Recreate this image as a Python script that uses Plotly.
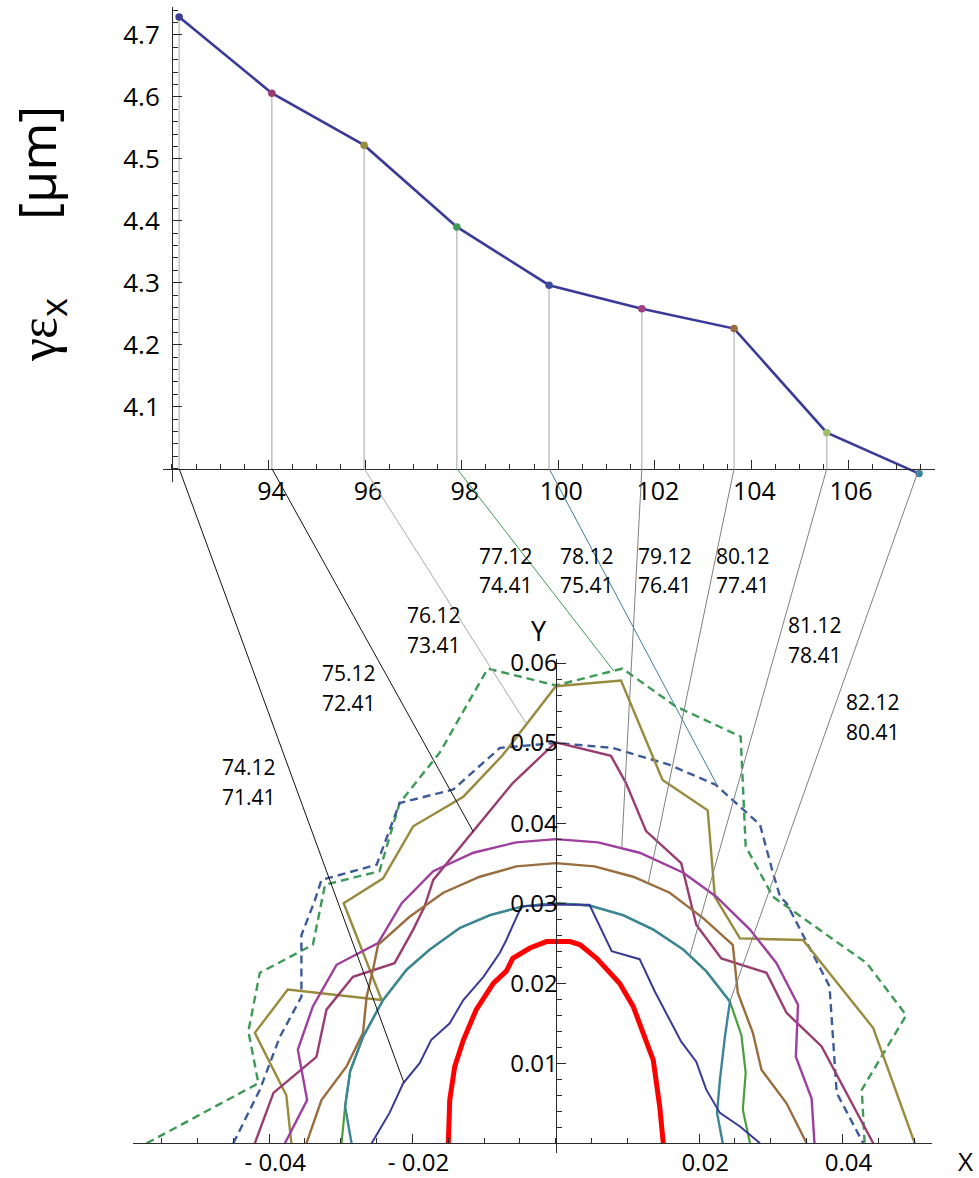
import plotly.graph_objects as go

W, H = 979, 1178

# ---------------- top panel: gamma*eps_x versus scan value ----------------
scan_x = [92.15, 94.07, 95.98, 97.90, 99.81, 101.73, 103.64, 105.56, 107.47]
emit_x = [4.729, 4.606, 4.522, 4.390, 4.296, 4.258, 4.226, 4.058, 3.992]
point_colors = ["#3f3d99", "#993d71", "#998b3d", "#3d9956", "#3d4a9c",
                "#a23f7e", "#996d3d", "#9cc06a", "#3d84a4"]

top_xticks = [94, 96, 98, 100, 102, 104, 106]
top_yticks = [4.1, 4.2, 4.3, 4.4, 4.5, 4.6, 4.7]

# ---------------- bottom panel: beam contours in the X-Y plane ----------------
core_x = [-0.0150, -0.0148, -0.0141, -0.0129, -0.0111, -0.0087, -0.0069, -0.0060, -0.0036,
          -0.0013, 0.0, 0.0020, 0.0034, 0.0057, 0.0089, 0.0108, 0.0136, 0.0145, 0.0150]
core_y = [0.0, 0.0054, 0.0096, 0.0129, 0.0167, 0.0200, 0.0215, 0.0231, 0.0244,
          0.0252, 0.0252, 0.0252, 0.0248, 0.0231, 0.0200, 0.0171, 0.0104, 0.0046, 0.0]

indigo_x = [-0.0257, -0.0232, -0.0213, -0.0190, -0.0174, -0.0148, -0.0129, -0.0101, -0.0078,
            -0.0069, -0.0048, 0.0, 0.0047, 0.0078, 0.0117, 0.0138, 0.0175, 0.0196, 0.0210,
            0.0229, 0.0257, 0.0285]
indigo_y = [0.0, 0.0038, 0.0075, 0.0100, 0.0129, 0.0150, 0.0179, 0.0208, 0.0238,
            0.0254, 0.0296, 0.0298, 0.0298, 0.0240, 0.0230, 0.0190, 0.0127, 0.0102, 0.0067,
            0.0038, 0.0021, 0.0]

teal_x = [-0.0285, -0.0294, -0.0287, -0.0269, -0.0241, -0.0208, -0.0176, -0.0134, -0.0092,
          -0.0046, 0.0, 0.0047, 0.0094, 0.0136, 0.0178, 0.0210, 0.0243, 0.0236, 0.0229,
          0.0225, 0.0233]
teal_y = [0.0, 0.0046, 0.0090, 0.0133, 0.0179, 0.0217, 0.0242, 0.0269, 0.0285,
          0.0296, 0.0300, 0.0297, 0.0285, 0.0267, 0.0242, 0.0215, 0.0177, 0.0133, 0.0079,
          0.0038, 0.0]

green_x = [-0.0299, -0.0294, -0.0287, -0.0269, -0.0241, -0.0208, -0.0176, -0.0134, -0.0092,
           -0.0046, 0.0, 0.0047, 0.0094, 0.0136, 0.0178, 0.0210, 0.0243, 0.0259, 0.0265,
           0.0261, 0.0271]
green_y = [0.0, 0.0046, 0.0090, 0.0133, 0.0179, 0.0217, 0.0242, 0.0269, 0.0285,
           0.0296, 0.0300, 0.0297, 0.0285, 0.0267, 0.0242, 0.0215, 0.0177, 0.0135, 0.0088,
           0.0042, 0.0]

brown_x = [-0.0348, -0.0327, -0.0292, -0.0269, -0.0264, -0.0255, -0.0248, -0.0204, -0.0157,
           -0.0106, -0.0055, 0.0, 0.0054, 0.0108, 0.0159, 0.0206, 0.0247, 0.0254, 0.0275,
           0.0287, 0.0322, 0.0350]
brown_y = [0.0, 0.0054, 0.0096, 0.0138, 0.0183, 0.0217, 0.0248, 0.0283, 0.0313,
           0.0333, 0.0346, 0.0350, 0.0346, 0.0333, 0.0313, 0.0281, 0.0248, 0.0188, 0.0138,
           0.0092, 0.0050, 0.0]

magenta_x = [-0.0378, -0.0347, -0.0360, -0.0339, -0.0306, -0.0248, -0.0215, -0.0171, -0.0115,
             -0.0055, 0.0, 0.0059, 0.0117, 0.0178, 0.0224, 0.0271, 0.0308, 0.0338, 0.0335,
             0.0357, 0.0361]
magenta_y = [0.0, 0.0054, 0.0117, 0.0171, 0.0223, 0.0250, 0.0300, 0.0340, 0.0363,
             0.0376, 0.0380, 0.0376, 0.0363, 0.0338, 0.0308, 0.0267, 0.0225, 0.0173, 0.0108,
             0.0056, 0.0]

crimson_x = [-0.0420, -0.0394, -0.0334, -0.0320, -0.0283, -0.0225, -0.0199, -0.0183, -0.0171,
             -0.0115, -0.0060, 0.0, 0.0077, 0.0098, 0.0126, 0.0175, 0.0196, 0.0231, 0.0294,
             0.0322, 0.0371, 0.0443]
crimson_y = [0.0, 0.0063, 0.0108, 0.0167, 0.0208, 0.0225, 0.0267, 0.0296, 0.0329,
             0.0390, 0.0450, 0.0501, 0.0484, 0.0450, 0.0390, 0.0350, 0.0273, 0.0231, 0.0213,
             0.0163, 0.0121, 0.0]

olive_x = [-0.0369, -0.0376, -0.0420, -0.0374, -0.0243, -0.0296, -0.0241, -0.0199, -0.0129,
           -0.0074, 0.0, 0.0091, 0.0149, 0.0212, 0.0222, 0.0257, 0.0345, 0.0443, 0.0501]
olive_y = [0.0, 0.0060, 0.0138, 0.0192, 0.0179, 0.0300, 0.0331, 0.0396, 0.0433,
           0.0485, 0.0571, 0.0578, 0.0454, 0.0416, 0.0308, 0.0256, 0.0254, 0.0144, 0.0]

bdash_x = [-0.0450, -0.0413, -0.0385, -0.0355, -0.0355, -0.0336, -0.0327, -0.0250, -0.0218,
           -0.0143, -0.0078, 0.0, 0.0079, 0.0158, 0.0223, 0.0285, 0.0303, 0.0313, 0.0322,
           0.0382, 0.0392, 0.0429]
bdash_y = [0.0, 0.0067, 0.0133, 0.0183, 0.0260, 0.0304, 0.0329, 0.0348, 0.0425,
           0.0442, 0.0494, 0.0500, 0.0494, 0.0473, 0.0448, 0.0398, 0.0338, 0.0308, 0.0300,
           0.0196, 0.0063, 0.0]

gdash_x = [-0.0571, -0.0415, -0.0429, -0.0413, -0.0339, -0.0322, -0.0246, -0.0218, -0.0162,
           -0.0095, 0.0, 0.0093, 0.0167, 0.0258, 0.0265, 0.0303, 0.0434, 0.0489, 0.0427,
           0.0431]
gdash_y = [0.0, 0.0075, 0.0140, 0.0213, 0.0248, 0.0323, 0.0340, 0.0425, 0.0488,
           0.0593, 0.0572, 0.0593, 0.0546, 0.0508, 0.0371, 0.0308, 0.0225, 0.0160, 0.0067,
           0.0]

bot_xticks = [-0.04, -0.02, 0.02, 0.04]
bot_xticktext = ["- 0.04", "- 0.02", "0.02", "0.04"]
bot_yticks = [0.01, 0.02, 0.03, 0.04, 0.05, 0.06]

# where each scan point lands on its contour (bottom-panel X, Y)
link_end_x = [-0.0212, -0.0115, -0.0041, 0.0081, 0.0226, 0.0092, 0.0129, 0.0187, 0.0243]
link_end_y = [0.0076, 0.0389, 0.0524, 0.0590, 0.0446, 0.0369, 0.0325, 0.0234, 0.0177]
link_colors = ["#111111", "#111111", "#aaaaaa", "#3d9956", "#3d7fa0",
               "#808080", "#808080", "#808080", "#808080"]

labels_upper = ["74.12", "75.12", "76.12", "77.12", "78.12", "79.12", "80.12", "81.12", "82.12"]
labels_lower = ["71.41", "72.41", "73.41", "74.41", "75.41", "76.41", "77.41", "78.41", "80.41"]

# ---------------- geometry (pixels) ----------------
TOP_PX_X, TOP_PX_Y = (163, 935), (7, 482)
BOT_PX_X, BOT_PX_Y = (133, 932), (659, 1153)
TOP_XR, TOP_YR = [91.816, 107.80], [3.9784, 4.745]
BOT_XR, BOT_YR = [-0.059, 0.0525], [-0.00121, 0.0605]
TOP_ORIGIN = (92.0, 4.0)
BOT_ORIGIN = (0.0, 0.0)
BOT_YLABEL_NUDGE = 2  # px: bottom Y tick labels sit against the axis line

# label anchor positions: (left edge px, first-line centre px)
LABEL_POS = [(220, 767), (320, 673), (405, 615), (477, 556), (558, 556),
             (636, 556), (714, 556), (786, 625), (844, 702)]
LINE_GAP = 29.5


def dom_x(px):
    return [px[0] / W, px[1] / W]


def dom_y(py):
    return [1 - py[1] / H, 1 - py[0] / H]


TOP_DX, TOP_DY = dom_x(TOP_PX_X), dom_y(TOP_PX_Y)
BOT_DX, BOT_DY = dom_x(BOT_PX_X), dom_y(BOT_PX_Y)


def to_paper(x, y, xr, yr, dx, dy):
    fx = dx[0] + (x - xr[0]) / (xr[1] - xr[0]) * (dx[1] - dx[0])
    fy = dy[0] + (y - yr[0]) / (yr[1] - yr[0]) * (dy[1] - dy[0])
    return fx, fy


top_origin_paper = to_paper(*TOP_ORIGIN, TOP_XR, TOP_YR, TOP_DX, TOP_DY)
bot_origin_paper = to_paper(*BOT_ORIGIN, BOT_XR, BOT_YR, BOT_DX, BOT_DY)

AXIS_COLOR = "#2b2b2b"
FONT = "Open Sans"
SERIF = "Liberation Serif"
NBSP = "\u00a0"

fig = go.Figure()

# drop lines from each scan point to the axis
drop_x, drop_y = [], []
for xv, yv in zip(scan_x, emit_x):
    drop_x += [xv, xv, None]
    drop_y += [yv, TOP_ORIGIN[1], None]
fig.add_trace(go.Scatter(x=drop_x, y=drop_y, mode="lines",
                         line=dict(color="#b8b8b8", width=1.3),
                         xaxis="x", yaxis="y", hoverinfo="skip", showlegend=False))
fig.add_trace(go.Scatter(x=scan_x, y=emit_x, mode="lines",
                         line=dict(color="#3a3a98", width=2.6),
                         xaxis="x", yaxis="y", showlegend=False))
fig.add_trace(go.Scatter(x=scan_x, y=emit_x, mode="markers",
                         marker=dict(color=point_colors, size=7.5),
                         xaxis="x", yaxis="y", showlegend=False))

DASH = "8px,5px"
contours = [
    (gdash_x, gdash_y, "#3d9956", 2.4, DASH),
    (bdash_x, bdash_y, "#3d5a99", 2.4, DASH),
    (olive_x, olive_y, "#998b3d", 2.4, None),
    (crimson_x, crimson_y, "#993d71", 2.4, None),
    (magenta_x, magenta_y, "#9e3e9e", 2.4, None),
    (brown_x, brown_y, "#996d3d", 2.4, None),
    (green_x, green_y, "#4a9e3e", 2.2, None),
    (teal_x, teal_y, "#3d8599", 2.4, None),
    (indigo_x, indigo_y, "#3a3a96", 2.0, None),
    (core_x, core_y, "#ff0000", 5.0, None),
]
for cx, cy, col, lw, dash in contours:
    line = dict(color=col, width=lw)
    if dash:
        line["dash"] = dash
    fig.add_trace(go.Scatter(x=cx, y=cy, mode="lines", line=line,
                             xaxis="x2", yaxis="y2", showlegend=False))

# invisible trace that keeps the label-only Y axis of the bottom panel alive
fig.add_trace(go.Scatter(x=[BOT_ORIGIN[0]], y=[BOT_ORIGIN[1]], mode="markers",
                         marker=dict(opacity=0), xaxis="x2", yaxis="y3",
                         hoverinfo="skip", showlegend=False))

# connectors from the scan axis down to the contours
shapes = []
for xs, xe, ye, col in zip(scan_x, link_end_x, link_end_y, link_colors):
    p0 = to_paper(xs, TOP_ORIGIN[1], TOP_XR, TOP_YR, TOP_DX, TOP_DY)
    p1 = to_paper(xe, ye, BOT_XR, BOT_YR, BOT_DX, BOT_DY)
    shapes.append(dict(type="line", xref="paper", yref="paper",
                       x0=p0[0], y0=p0[1], x1=p1[0], y1=p1[1],
                       line=dict(color=col, width=1), layer="above"))

annotations = []
for (lx, ly), t1, t2 in zip(LABEL_POS, labels_upper, labels_lower):
    for k, t in enumerate((t1, t2)):
        annotations.append(dict(text=t, x=lx / W, y=1 - (ly + k * LINE_GAP) / H,
                                xref="paper", yref="paper", xanchor="left", yanchor="middle",
                                showarrow=False, font=dict(size=21, family=FONT, color="black")))

title_text = (f'<span style="font-family:{SERIF}">γε</span><sub>x</sub>'
              "\u2003\u2002[μm]")
annotations.append(dict(text=title_text, textangle=-90,
                        x=39 / W, y=1 - 234 / H, xref="paper", yref="paper",
                        xanchor="center", yanchor="middle", showarrow=False,
                        font=dict(size=52, family=FONT, color="black")))
annotations.append(dict(text="Y", x=539 / W, y=1 - 630 / H, xref="paper", yref="paper",
                        xanchor="center", yanchor="middle", showarrow=False,
                        font=dict(size=27, family=FONT, color="black")))
annotations.append(dict(text="X", x=965 / W, y=1 - 1161 / H, xref="paper", yref="paper",
                        xanchor="center", yanchor="middle", showarrow=False,
                        font=dict(size=26, family=FONT, color="black")))


def axis_common(size):
    return dict(showline=True, linecolor=AXIS_COLOR, linewidth=1.2,
                ticks="inside", ticklen=9, tickwidth=1.1, tickcolor=AXIS_COLOR,
                tickfont=dict(size=size, family=FONT, color="black"),
                showgrid=False, zeroline=False, automargin=False)


fig.update_layout(
    width=W, height=H, autosize=False,
    margin=dict(l=0, r=0, t=0, b=0),
    paper_bgcolor="white", plot_bgcolor="white",
    showlegend=False,
    xaxis=dict(domain=TOP_DX, range=TOP_XR, anchor="free", position=top_origin_paper[1],
               tickmode="array", tickvals=top_xticks, ticktext=[str(v) for v in top_xticks],
               ticklabelshift=3,
               minor=dict(ticks="inside", ticklen=5, dtick=0.5, tick0=0,
                          tickcolor=AXIS_COLOR, tickwidth=1),
               **axis_common(25)),
    yaxis=dict(domain=TOP_DY, range=TOP_YR, anchor="free", position=top_origin_paper[0],
               side="left",
               tickmode="array", tickvals=top_yticks,
               ticktext=[f"{v:.1f}{NBSP}" for v in top_yticks],
               minor=dict(ticks="inside", ticklen=5, dtick=0.02, tick0=0,
                          tickcolor=AXIS_COLOR, tickwidth=1),
               **axis_common(26)),
    xaxis2=dict(domain=BOT_DX, range=BOT_XR, anchor="free", position=bot_origin_paper[1],
                tickmode="array", tickvals=bot_xticks, ticktext=bot_xticktext,
                ticklabelshift=6, ticklabelstandoff=-2,
                minor=dict(ticks="inside", ticklen=5, dtick=0.005, tick0=0,
                           tickcolor=AXIS_COLOR, tickwidth=1),
                **axis_common(24)),
    yaxis2=dict(domain=BOT_DY, range=BOT_YR, anchor="free", position=bot_origin_paper[0],
                side="left", tickmode="array", tickvals=bot_yticks, showticklabels=False,
                minor=dict(ticks="inside", ticklen=5, dtick=0.002, tick0=0,
                           tickcolor=AXIS_COLOR, tickwidth=1),
                **axis_common(24)),
    yaxis3=dict(overlaying="y2", range=BOT_YR, anchor="free", side="left",
                position=bot_origin_paper[0] + BOT_YLABEL_NUDGE / W,
                showline=False, ticks="", showgrid=False, zeroline=False, automargin=False,
                tickmode="array", tickvals=bot_yticks,
                ticktext=[f"{v:.2f}" for v in bot_yticks],
                tickfont=dict(size=24, family=FONT, color="black")),
    shapes=shapes,
    annotations=annotations,
)

fig.write_html("out.html")
